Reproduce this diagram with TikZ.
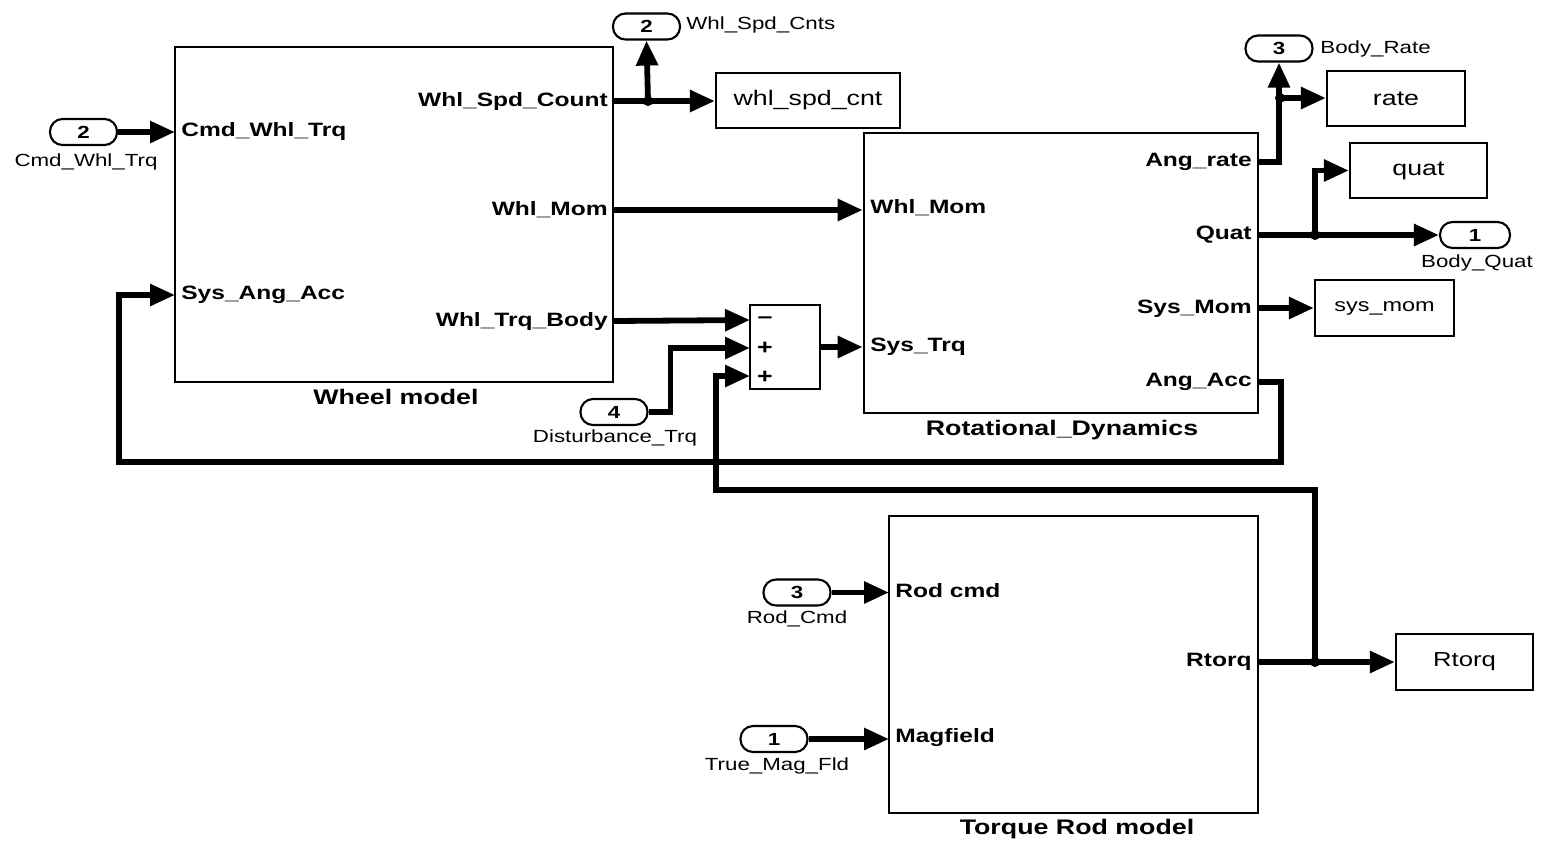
\documentclass[tikz,border=0pt]{standalone}
\usepackage{fontspec}
\setmainfont{Liberation Sans}[FakeStretch=1.27]
\usetikzlibrary{arrows.meta}
\begin{document}
\begin{tikzpicture}[x=0.02cm,y=-0.02cm,
  blk/.style={draw, line width=1.5pt, inner sep=0pt},
  sink/.style={draw, line width=1.3pt, inner sep=0pt, minimum height=1.1cm, font=\fontsize{12}{14}\selectfont},
  port/.style={draw, line width=1.2pt, rounded corners=0.25cm, minimum width=1.34cm, minimum height=0.52cm, inner sep=0pt, fill=white, font=\fontsize{10}{12}\selectfont\bfseries},
  plab/.style={inner sep=0pt, font=\fontsize{11}{13}\selectfont\bfseries},
  title/.style={inner sep=0pt, font=\fontsize{12}{14}\selectfont\bfseries},
  slab/.style={inner sep=0pt, font=\fontsize{10}{12}\selectfont},
  sig/.style={line width=3.3pt, -{Triangle[length=0.5cm, width=0.42cm]}},
  jdot/.style={circle, fill, inner sep=0pt, minimum size=0.2cm}
]
\useasboundingbox (0,0) rectangle (1541,840);

% ---- blocks
\node[blk, minimum width=8.76cm, minimum height=6.70cm] (wheel) at (394,214.5) {};
\node[blk, minimum width=7.88cm, minimum height=5.60cm] (rot) at (1061,273) {};
\node[blk, minimum width=7.38cm, minimum height=5.94cm] (rod) at (1073.5,664.5) {};
\node[blk, minimum width=1.40cm, minimum height=1.68cm] (sum) at (785,347) {};

\node[title] (wheelt) at (396,397) {Wheel model};
\node[title] (rott) at (1062,430) {Rotational\_Dynamics};
\node[title] (rodt) at (1077,829) {Torque Rod model};

% ---- sinks
\node[sink, minimum width=3.68cm] (whlspd) at (808,100.5) {whl\_spd\_cnt};
\node[sink, minimum width=2.76cm] (rate) at (1396,98.5) {rate};
\node[sink, minimum width=2.74cm] (quat) at (1418.5,170.5) {quat};
\node[sink, minimum width=2.78cm, minimum height=1.12cm, font=\fontsize{10.5}{12}\selectfont] (sysmom) at (1384.5,308) {sys\_mom};
\node[sink, minimum width=2.74cm, minimum height=1.12cm, font=\fontsize{11.5}{13}\selectfont] (rtorqbox) at (1464.5,662) {Rtorq};

% ---- ports
\node[port] (incmd) at (83.5,132) {2};
\node[port] (outspd) at (646.5,26.5) {2};
\node[port] (outrate) at (1279,48.5) {3};
\node[port, minimum width=1.4cm] (outquat) at (1475,235) {1};
\node[port] (indist) at (614,412) {4};
\node[port] (inrod) at (797,592.5) {3};
\node[port] (inmag) at (774,739) {1};

\node[slab] (incmdl) at (86,162) {Cmd\_Whl\_Trq};
\node[slab, anchor=west] (outspdl) at (686,25) {Whl\_Spd\_Cnts};
\node[slab, anchor=west] (outratel) at (1320,49) {Body\_Rate};
\node[slab] (outquatl) at (1477,263) {Body\_Quat};
\node[slab] (indistl) at (615,438) {Disturbance\_Trq};
\node[slab] (inrodl) at (797,619) {Rod\_Cmd};
\node[slab] (inmagl) at (777,766) {True\_Mag\_Fld};

% ---- port labels on blocks
\node[plab, anchor=west] (w1) at (181,131) {Cmd\_Whl\_Trq};
\node[plab, anchor=west] (w2) at (181,295) {Sys\_Ang\_Acc};
\node[plab, anchor=east] (w3) at (608,101) {Whl\_Spd\_Count};
\node[plab, anchor=east] (w4) at (608,210) {Whl\_Mom};
\node[plab, anchor=east] (w5) at (608,321) {Whl\_Trq\_Body};

\node[plab, anchor=west] (r1) at (870,208) {Whl\_Mom};
\node[plab, anchor=west] (r2) at (870,347) {Sys\_Trq};
\node[plab, anchor=east] (r3) at (1252,162) {Ang\_rate};
\node[plab, anchor=east] (r4) at (1252,235) {Quat};
\node[plab, anchor=east] (r5) at (1252,309) {Sys\_Mom};
\node[plab, anchor=east] (r6) at (1252,382) {Ang\_Acc};

\node[plab, anchor=west] (t1) at (895,591) {Rod cmd};
\node[plab, anchor=west] (t2) at (895,738) {Magfield};
\node[plab, anchor=east] (t3) at (1252,662) {Rtorq};

\node[plab, font=\fontsize{12}{14}\selectfont\bfseries] (s1) at (765,320) {–};
\node[plab, font=\fontsize{12}{14}\selectfont\bfseries] (s2) at (765,348) {+};
\node[plab, font=\fontsize{12}{14}\selectfont\bfseries] (s3) at (765,377) {+};

% ---- coordinates
\coordinate (jspd) at (648,101);
\coordinate (jrate) at (1280,98);
\coordinate (jquat) at (1315,235);
\coordinate (jrtorq) at (1315,662);
\coordinate (cmdin) at (175,132);
\coordinate (sysin) at (175,295);
\coordinate (spdout) at (613,101);
\coordinate (momout) at (613,210);
\coordinate (trqout) at (613,321);
\coordinate (sumin1) at (750,320);
\coordinate (sumin2) at (750,348);
\coordinate (sumin3) at (750,376);
\coordinate (ratout) at (1258,162);
\coordinate (quatout) at (1258,235);
\coordinate (smomout) at (1258,308);
\coordinate (accout) at (1258,382);
\coordinate (rtout) at (1258,662);
\coordinate (rodin) at (889,592.5);
\coordinate (magin) at (889,739);

% ---- connectors
\draw[sig] (incmd.east) -- (cmdin);
\draw[sig] (spdout) -- (whlspd.west |- spdout);
\draw[sig] (jspd) -- (outspd.south);
\node[jdot] at (jspd) {};
\draw[sig] (momout) -- (momout -| rot.west);
\draw[sig] (trqout) -- (sumin1);
\draw[sig] (indist.east) -- ++(22,0) |- (sumin2);
\draw[sig] (sum.east) -- (sum.east -| rot.west);

\draw[sig] (ratout) -| (outrate.south);
\draw[sig] (jrate) -- (rate.west |- jrate);
\node[jdot] at (jrate) {};

\draw[sig] (quatout) -- (outquat.west);
\draw[sig] (jquat) |- (quat.west);
\node[jdot] at (jquat) {};

\draw[sig] (smomout) -- (sysmom.west);

\draw[sig] (accout) -- (1281,382) -- (1281,462) -- (119,462) -- (119,295) -- (sysin);

\draw[sig] (rtout) -- (rtorqbox.west);
\draw[sig] (jrtorq) -- (1315,490) -- (716,490) -- (716,376) -- (sumin3);
\node[jdot] at (jrtorq) {};

\draw[sig] (inrod.east) -- (rodin);
\draw[sig] (inmag.east) -- (magin);
\end{tikzpicture}
\end{document}
